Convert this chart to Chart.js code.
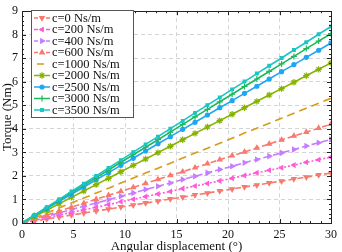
<!DOCTYPE html>
<html>
<head>
<meta charset="utf-8">
<script src="https://cdn.jsdelivr.net/npm/chart.js@4.4.0/dist/chart.umd.min.js"></script>
<style>
  html, body { margin: 0; padding: 0; background: #fff; }
  #wrap { width: 342px; height: 252px; }
</style>
</head>
<body>
<div id="wrap"><canvas id="torqueChart" width="342" height="252"></canvas></div>
<script>
// Datos
const angles = [0, 1.2, 2.4, 3.6, 4.8, 6, 7.2, 8.4, 9.6, 10.8, 12, 13.2, 14.4, 15.6, 16.8, 18, 19.2, 20.4, 21.6, 22.8, 24, 25.2, 26.4, 27.6, 28.8, 30];
const labels = ['c=0 Ns/m', 'c=200 Ns/m', 'c=400 Ns/m', 'c=600 Ns/m', 'c=1000 Ns/m', 'c=2000 Ns/m', 'c=2500 Ns/m', 'c=3000 Ns/m', 'c=3500 Ns/m'];
const torqueC0    = [0, 0.08, 0.17, 0.25, 0.34, 0.42, 0.51, 0.59, 0.68, 0.76, 0.85, 0.93, 1.02, 1.10, 1.19, 1.27, 1.36, 1.44, 1.53, 1.61, 1.70, 1.78, 1.87, 1.95, 2.04, 2.12];
const torqueC200  = [0, 0.11, 0.22, 0.34, 0.45, 0.56, 0.67, 0.78, 0.90, 1.01, 1.12, 1.23, 1.34, 1.46, 1.57, 1.68, 1.79, 1.90, 2.02, 2.13, 2.24, 2.35, 2.46, 2.58, 2.69, 2.80];
const torqueC400  = [0, 0.14, 0.28, 0.43, 0.57, 0.71, 0.85, 0.99, 1.14, 1.28, 1.42, 1.56, 1.70, 1.85, 1.99, 2.13, 2.27, 2.41, 2.56, 2.70, 2.84, 2.98, 3.12, 3.27, 3.41, 3.55];
const torqueC600  = [0, 0.17, 0.34, 0.50, 0.67, 0.84, 1.01, 1.18, 1.34, 1.51, 1.68, 1.85, 2.02, 2.18, 2.35, 2.52, 2.69, 2.86, 3.02, 3.19, 3.36, 3.53, 3.70, 3.86, 4.03, 4.20];
const torqueC1000 = [0, 0.21, 0.42, 0.64, 0.85, 1.06, 1.27, 1.48, 1.70, 1.91, 2.12, 2.33, 2.54, 2.76, 2.97, 3.18, 3.39, 3.60, 3.82, 4.03, 4.24, 4.45, 4.66, 4.88, 5.09, 5.30];
const torqueC2000 = [0, 0.27, 0.54, 0.82, 1.09, 1.36, 1.63, 1.90, 2.18, 2.45, 2.72, 2.99, 3.26, 3.54, 3.81, 4.08, 4.35, 4.62, 4.90, 5.17, 5.44, 5.71, 5.98, 6.26, 6.53, 6.80];
const torqueC2500 = [0, 0.31, 0.61, 0.92, 1.22, 1.53, 1.84, 2.14, 2.45, 2.75, 3.06, 3.37, 3.67, 3.98, 4.28, 4.59, 4.90, 5.20, 5.51, 5.81, 6.12, 6.43, 6.73, 7.04, 7.34, 7.65];
const torqueC3000 = [0, 0.32, 0.64, 0.97, 1.29, 1.61, 1.93, 2.25, 2.58, 2.90, 3.22, 3.54, 3.86, 4.19, 4.51, 4.83, 5.15, 5.47, 5.80, 6.12, 6.44, 6.76, 7.08, 7.41, 7.73, 8.05];
const torqueC3500 = [0, 0.33, 0.67, 1.00, 1.34, 1.67, 2.00, 2.34, 2.67, 3.01, 3.34, 3.67, 4.01, 4.34, 4.68, 5.01, 5.34, 5.68, 6.01, 6.35, 6.68, 7.01, 7.35, 7.68, 8.02, 8.35];
const xTicks = [0, 5, 10, 15, 20, 25, 30];
const yTicks = [0, 1, 2, 3, 4, 5, 6, 7, 8, 9];

const series = [torqueC0, torqueC200, torqueC400, torqueC600, torqueC1000, torqueC2000, torqueC2500, torqueC3000, torqueC3500];
const colors = ['#f87a6e', '#ff5ad8', '#c77cff', '#f87a6e', '#d99b12', '#86b300', '#1ea6f5', '#1db85a', '#1cc4c4'];
const dashes = [[6, 3], [2, 2], [7, 3], [6, 3], [8, 5], [], [], [], []];
const shapes = ['triangle', 'triangle', 'triangle', 'triangle', 'circle', 'star', 'circle', 'crossRot', 'rect'];
const rotations = [180, 270, 90, 0, 0, 0, 0, 45, 0];
const radii = [2.6, 2.3, 2.6, 2.6, 0, 3.2, 2, 3, 1.9];

const serif = "'Liberation Serif', 'Times New Roman', serif";

// Marco con marcas hacia dentro y leyenda con recuadro
const framePlugin = {
    id: 'frame',
    afterDraw(chart) {
        const c = chart.ctx;
        const a = chart.chartArea;
        const xs = chart.scales.x, ys = chart.scales.y;
        c.save();
        c.strokeStyle = '#222';
        c.lineWidth = 1;
        c.beginPath();
        for (let v = 0; v <= 30; v += 1) {
            const px = Math.round(xs.getPixelForValue(v)) + 0.5;
            const len = v % 5 === 0 ? 4 : 2;
            c.moveTo(px, a.bottom); c.lineTo(px, a.bottom - len);
            c.moveTo(px, a.top); c.lineTo(px, a.top + len);
        }
        for (let i = 0; i <= 45; i++) {
            const v = i / 5;
            const py = Math.round(ys.getPixelForValue(v)) + 0.5;
            const len = i % 5 === 0 ? 4 : 2;
            c.moveTo(a.left, py); c.lineTo(a.left + len, py);
            c.moveTo(a.right, py); c.lineTo(a.right - len, py);
        }
        c.stroke();
        c.strokeRect(Math.round(a.left) + 0.5, Math.round(a.top) + 0.5, Math.round(a.right - a.left), Math.round(a.bottom - a.top));

        // leyenda
        const lx = 31, ly = 10, lw = 102, lh = 107, step = 11.5;
        c.fillStyle = '#fff';
        c.fillRect(lx, ly, lw, lh);
        c.strokeStyle = '#555';
        c.strokeRect(lx + 0.5, ly + 0.5, lw, lh);
        c.font = '12.5px ' + serif;
        c.textBaseline = 'middle';
        labels.forEach((lab, i) => {
            const y = ly + 8 + i * step;
            c.strokeStyle = colors[i];
            c.lineWidth = 1.5;
            c.setLineDash(i === 4 ? [5, 0] : dashes[i].length ? [4, 2] : []);
            c.beginPath();
            if (i === 4) { c.moveTo(lx + 6, y); c.lineTo(lx + 13, y); }
            else { c.moveTo(lx + 3, y); c.lineTo(lx + 19, y); }
            c.stroke();
            c.setLineDash([]);
            if (radii[i] > 0) {
                c.fillStyle = colors[i];
                c.lineWidth = 1.2;
                Chart.helpers.drawPoint(c, { pointStyle: shapes[i], rotation: rotations[i], radius: radii[i], borderWidth: 1.2 }, lx + 11, y);
            }
            c.fillStyle = '#111';
            c.fillText(lab, lx + 21, y + 0.5);
        });
        c.restore();
    }
};

document.addEventListener('DOMContentLoaded', function() {
    const ctx = document.getElementById('torqueChart');
    const datasets = series.map((vals, i) => ({
        label: labels[i],
        data: vals.map((v, j) => ({ x: angles[j], y: v })),
        borderColor: colors[i],
        backgroundColor: colors[i],
        borderWidth: 1.6,
        borderDash: dashes[i],
        pointStyle: shapes[i],
        rotation: rotations[i],
        pointRadius: radii[i],
        pointBorderWidth: 1.2,
        pointBorderColor: colors[i],
        pointBackgroundColor: colors[i],
        tension: 0,
        fill: false,
        order: series.length - i
    }));

    new Chart(ctx.getContext('2d'), {
        type: 'line',
        data: { datasets: datasets },
        options: {
            responsive: false,
            animation: false,
            events: [],
            layout: { padding: { top: 4, right: 4, left: 0, bottom: 0 } },
            plugins: {
                legend: { display: false },
                tooltip: { enabled: false }
            },
            scales: {
                x: {
                    type: 'linear',
                    min: 0,
                    max: 30,
                    afterBuildTicks: s => { s.ticks = xTicks.map(v => ({ value: v })); },
                    afterFit: s => { s.height = 29; },
                    grid: { color: '#d4d4d4', drawTicks: false },
                    border: { display: false, dash: [4, 3] },
                    ticks: { color: '#111', padding: 5, maxRotation: 0, font: { family: serif, size: 12 } },
                    title: { display: true, text: 'Angular displacement (°)', color: '#111', padding: { top: 1, bottom: -2 }, font: { family: serif, size: 13 } }
                },
                y: {
                    type: 'linear',
                    min: 0,
                    max: 9,
                    afterBuildTicks: s => { s.ticks = yTicks.map(v => ({ value: v })); },
                    afterFit: s => { s.width = 22; },
                    grid: { color: '#d4d4d4', drawTicks: false },
                    border: { display: false, dash: [4, 3] },
                    ticks: { color: '#111', padding: 4, font: { family: serif, size: 12 } },
                    title: { display: true, text: 'Torque (Nm)', color: '#111', padding: { top: 0, bottom: 0 }, font: { family: serif, size: 13 } }
                }
            }
        },
        plugins: [framePlugin]
    });
});
</script>
</body>
</html>
